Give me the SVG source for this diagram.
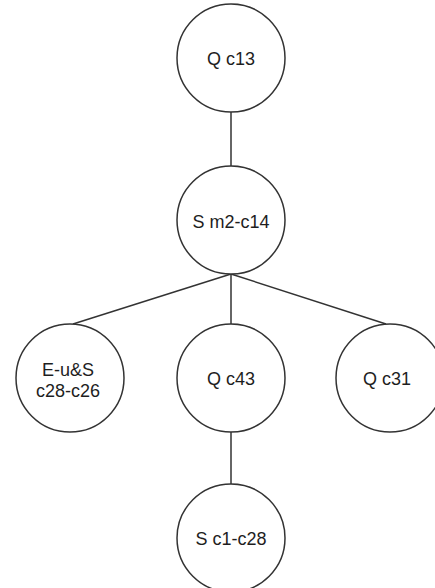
<svg xmlns="http://www.w3.org/2000/svg" width="435" height="588" viewBox="0 0 435 588">
  <style>
    .node circle { fill: #ffffff; stroke: #333333; stroke-width: 1.5; }
    .node text { font-family: "Liberation Sans", Arial, sans-serif; font-size: 18px; fill: #1e1e1e; text-anchor: middle; }
    .edges line { stroke: #333333; stroke-width: 1.5; }
  </style>
  <rect width="435" height="588" fill="#ffffff"/>
  <!-- tree edges -->
  <g class="edges" id="edges">
    <line x1="231" y1="112" x2="231" y2="166"/>
    <line x1="231" y1="274" x2="231" y2="324"/>
    <line x1="231" y1="274" x2="73" y2="324"/>
    <line x1="231" y1="274" x2="386" y2="324"/>
    <line x1="231" y1="432" x2="231" y2="484"/>
  </g>
  <g class="node" id="n-qc13">
    <circle cx="231" cy="58" r="54"/>
    <text x="231" y="65">Q c13</text>
  </g>
  <g class="node" id="n-sm2c14">
    <circle cx="231" cy="220" r="54"/>
    <text x="231" y="228">S m2-c14</text>
  </g>
  <g class="node" id="n-eus">
    <circle cx="70" cy="378" r="54"/>
    <text x="68" y="376">E-u&amp;S</text>
    <text x="68" y="397">c28-c26</text>
  </g>
  <g class="node" id="n-qc43">
    <circle cx="231" cy="378" r="54"/>
    <text x="231" y="385">Q c43</text>
  </g>
  <g class="node" id="n-qc31">
    <circle cx="390" cy="378" r="54"/>
    <text x="387" y="385">Q c31</text>
  </g>
  <g class="node" id="n-sc1c28">
    <circle cx="231" cy="538" r="54"/>
    <text x="231" y="545">S c1-c28</text>
  </g>
</svg>
